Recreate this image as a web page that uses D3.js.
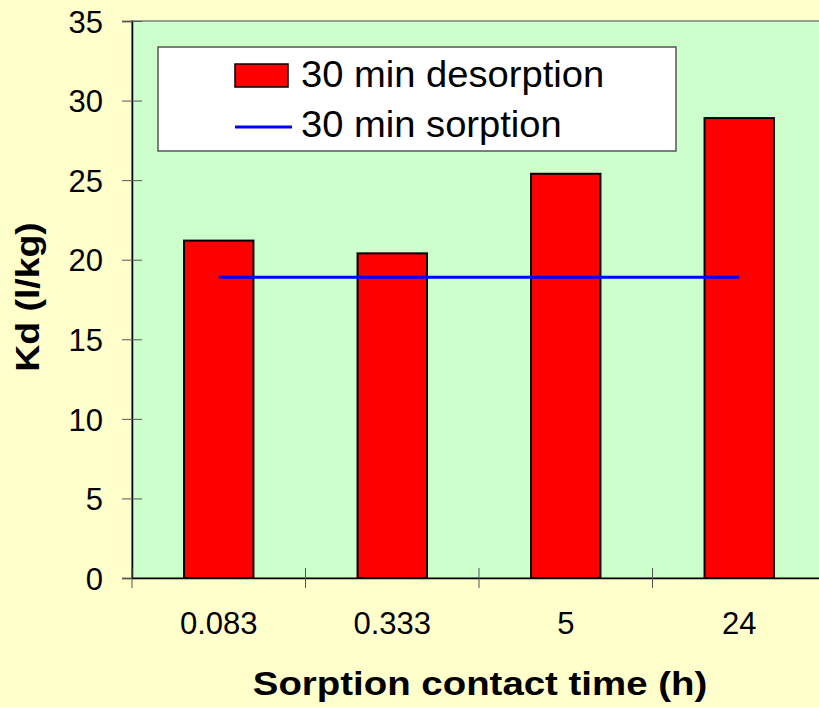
<!DOCTYPE html>
<html>
<head>
<meta charset="utf-8">
<script src="https://cdn.jsdelivr.net/npm/d3@7"></script>
<style>
  html, body { margin: 0; padding: 0; background: #ffffcc; }
  svg { display: block; font-family: Arial, "Liberation Sans", sans-serif; }
</style>
</head>
<body>
<div id="chart"></div>
<script>
// contact times (h) on the x axis
var categories = ['0.083', '0.333', '5', '24'];
// Kd after 30 min desorption, one bar per contact time
var desorption = [21.2, 20.4, 25.4, 28.9];
// Kd after 30 min sorption, drawn as a flat line
var sorption = [18.9, 18.9, 18.9, 18.9];
var yTicks = [0, 5, 10, 15, 20, 25, 30, 35];

var width = 819, height = 707;
var margin = { top: 21, right: -7, bottom: 129, left: 132 };
var font = 'Arial, "Liberation Sans", sans-serif';

var svg = d3.select('#chart').append('svg')
    .attr('width', width)
    .attr('height', height);

svg.append('rect').attr('width', width).attr('height', height).attr('fill', '#ffffcc');

var x = d3.scaleBand()
    .domain(categories)
    .range([margin.left, width - margin.right])
    .paddingInner(0.6)
    .paddingOuter(0.3);

var xEdges = d3.scaleBand()
    .domain(categories)
    .range([margin.left, width - margin.right]);

var y = d3.scaleLinear()
    .domain([0, 35])
    .range([height - margin.bottom, margin.top]);

// titles in the original are a bit wider than Arial, stretch them sideways
function stretch(sel, tx, ty, sx) {
    sel.attr('x', 0).attr('y', 0)
        .attr('transform', 'translate(' + tx + ',' + ty + ') scale(' + sx + ',1)');
}

// plot area
svg.append('rect')
    .attr('x', margin.left)
    .attr('y', margin.top)
    .attr('width', width - margin.right - margin.left)
    .attr('height', y(0) - margin.top)
    .attr('fill', '#ccffcc')
    .attr('stroke', '#808080')
    .attr('stroke-width', 1.5);

// bars
svg.append('g')
    .selectAll('rect')
    .data(desorption)
    .enter().append('rect')
    .attr('x', function(d, i) { return x(categories[i]); })
    .attr('y', function(d) { return y(d); })
    .attr('width', x.bandwidth())
    .attr('height', function(d) { return y(0) - y(d); })
    .attr('fill', '#ff0000')
    .attr('stroke', '#000')
    .attr('stroke-width', 2);

// sorption line
var line = d3.line()
    .x(function(d, i) { return xEdges(categories[i]) + xEdges.bandwidth() / 2; })
    .y(function(d) { return y(d); });

svg.append('path')
    .datum(sorption)
    .attr('d', line)
    .attr('fill', 'none')
    .attr('stroke', '#0000ff')
    .attr('stroke-width', 3);

// y axis
var yAxis = svg.append('g')
    .attr('transform', 'translate(' + margin.left + ',0)')
    .call(d3.axisLeft(y).tickValues(yTicks).tickSize(10));
yAxis.select('.domain').attr('stroke', '#000').attr('stroke-width', 1.5);
yAxis.selectAll('.tick line').attr('stroke', '#555').attr('x2', 10).attr('x1', -10);
yAxis.selectAll('.tick text')
    .attr('font-size', 31).attr('fill', '#000').attr('font-family', font)
    .attr('x', -29)
    .attr('dy', '0.36em');

// x axis
var xAxis = svg.append('g')
    .attr('transform', 'translate(0,' + y(0) + ')')
    .call(d3.axisBottom(xEdges).tickSize(0));
xAxis.select('.domain').attr('stroke', '#000').attr('stroke-width', 1.5);
xAxis.selectAll('.tick text')
    .attr('font-size', 31).attr('fill', '#000').attr('font-family', font)
    .attr('y', 56)
    .attr('dy', 0);

// category separators on the x axis
svg.append('g')
    .selectAll('line')
    .data(categories)
    .enter().append('line')
    .attr('x1', function(d) { return xEdges(d); })
    .attr('x2', function(d) { return xEdges(d); })
    .attr('y1', y(0) - 10)
    .attr('y2', y(0) + 10)
    .attr('stroke', '#555')
    .attr('stroke-width', 1);

// axis titles
svg.append('text')
    .attr('text-anchor', 'middle')
    .attr('font-size', 34)
    .attr('font-weight', 'bold')
    .text('Sorption contact time (h)')
    .call(stretch, 480, 695, 1.13);

svg.append('text')
    .attr('transform', 'translate(39,297) rotate(-90) scale(1.1,1)')
    .attr('text-anchor', 'middle')
    .attr('font-size', 34)
    .attr('font-weight', 'bold')
    .text('Kd (l/kg)');

// legend
var legend = svg.append('g');
legend.append('rect')
    .attr('x', 158).attr('y', 47)
    .attr('width', 518).attr('height', 104)
    .attr('fill', '#fff')
    .attr('stroke', '#555')
    .attr('stroke-width', 1.5);
legend.append('rect')
    .attr('x', 235).attr('y', 64)
    .attr('width', 53).attr('height', 23)
    .attr('fill', '#ff0000')
    .attr('stroke', '#000')
    .attr('stroke-width', 1.5);
legend.append('line')
    .attr('x1', 235).attr('x2', 292)
    .attr('y1', 127).attr('y2', 127)
    .attr('stroke', '#0000ff')
    .attr('stroke-width', 3);
legend.append('text')
    .attr('font-size', 36)
    .text('30 min desorption')
    .call(stretch, 301, 87, 1.06);
legend.append('text')
    .attr('font-size', 36)
    .text('30 min sorption')
    .call(stretch, 301, 137, 1.06);
</script>
</body>
</html>
